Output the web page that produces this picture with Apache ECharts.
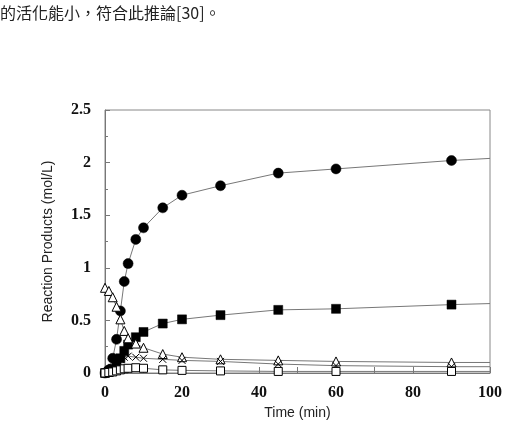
<!DOCTYPE html>
<html>
<head>
<meta charset="utf-8">
<script src="https://cdn.jsdelivr.net/npm/echarts@6/dist/echarts.min.js"></script>
<style>
  html, body { margin: 0; padding: 0; background: #fff; }
  #chart { width: 517px; height: 426px; }
</style>
</head>
<body>
<div id="chart"></div>
<script>
// sampling times (min)
var time = [0, 1, 2, 3, 4, 5, 6, 8, 10, 15, 20, 30, 45, 60, 90];
var endTime = 100;

// reaction products (mol/L)
var filledCircle = [0, 0.03, 0.14, 0.32, 0.59, 0.87, 1.04, 1.27, 1.38, 1.57, 1.69, 1.78, 1.90, 1.94, 2.02];
var filledSquare = [0, 0.01, 0.04, 0.08, 0.14, 0.21, 0.27, 0.34, 0.39, 0.47, 0.51, 0.55, 0.60, 0.61, 0.65];
var openTriangle = [0.81, 0.78, 0.72, 0.63, 0.51, 0.40, 0.33, 0.28, 0.24, 0.18, 0.15, 0.13, 0.12, 0.11, 0.10];
var crossMark = [0, 0.02, 0.05, 0.09, 0.13, 0.15, 0.16, 0.15, 0.14, 0.13, 0.12, 0.11, 0.085, 0.07, 0.06];
var openSquare = [0, 0.005, 0.01, 0.02, 0.03, 0.04, 0.045, 0.05, 0.045, 0.03, 0.025, 0.02, 0.015, 0.015, 0.015];

// curve values at the right edge (t = 100)
var endValues = [2.04, 0.66, 0.10, 0.06, 0.015];

var xTicks = [0, 20, 40, 60, 80, 100];
var yTicks = [0, 0.5, 1, 1.5, 2, 2.5];

var caption = '的活化能小，符合此推論[30]。';

function pairs(ys) {
    return time.map(function (t, i) { return [t, ys[i]]; });
}

var groups = [
    {data: filledCircle, symbol: 'circle', size: 10, fill: '#000'},
    {data: filledSquare, symbol: 'rect', size: 9, fill: '#000'},
    {data: openTriangle, symbol: 'triangle', size: 9, fill: '#fff'},
    {data: crossMark, symbol: 'path://M0,0L10,10M10,0L0,10', size: 7, fill: 'none'},
    {data: openSquare, symbol: 'rect', size: 8, fill: '#fff'}
];

var series = [];
groups.forEach(function (g, i) {
    series.push({
        type: 'line',
        data: pairs(g.data).concat([[endTime, endValues[i]]]),
        showSymbol: false,
        silent: true,
        z: 2,
        lineStyle: {color: '#777', width: 1}
    });
});
groups.forEach(function (g) {
    series.push({
        type: 'scatter',
        data: pairs(g.data),
        symbol: g.symbol,
        symbolSize: g.size,
        z: 3,
        itemStyle: {
            color: g.fill,
            borderColor: '#000',
            borderWidth: g.fill === '#000' ? 0.5 : 1,
            opacity: 1
        }
    });
});

var chart = echarts.init(document.getElementById('chart'));
chart.setOption({
    animation: false,
    backgroundColor: '#fff',
    graphic: [{
        type: 'text',
        left: 0,
        top: 5,
        style: {
            text: caption,
            font: '16px "Noto Sans CJK TC"',
            fill: '#222'
        }
    }],
    grid: {
        left: 105, right: 27, top: 110, bottom: 53,
        show: true, borderColor: '#888', borderWidth: 1
    },
    xAxis: {
        type: 'value',
        min: 0, max: 100, interval: 20,
        name: 'Time (min)',
        nameLocation: 'middle',
        nameGap: 33,
        nameTextStyle: {fontFamily: 'Liberation Sans', fontSize: 14, color: '#222'},
        axisLine: {lineStyle: {color: '#777'}},
        axisTick: {inside: true, length: 6, lineStyle: {color: '#777'}},
        minorTick: {show: true, splitNumber: 2, length: 6, lineStyle: {color: '#777'}},
        splitLine: {show: false},
        axisLabel: {
            margin: 12,
            fontFamily: 'Liberation Serif', fontWeight: 'bold', fontSize: 16, color: '#111',
            formatter: function (v) { return xTicks.indexOf(v) >= 0 ? String(v) : ''; }
        }
    },
    yAxis: {
        type: 'value',
        min: 0, max: 2.5, interval: 0.5,
        name: 'Reaction Products (mol/L)',
        nameLocation: 'middle',
        nameGap: 50,
        nameTextStyle: {fontFamily: 'Liberation Sans', fontSize: 14, color: '#222'},
        axisLine: {lineStyle: {color: '#777'}},
        axisTick: {inside: true, length: 5, lineStyle: {color: '#777'}},
        minorTick: {show: true, splitNumber: 2, length: 3, lineStyle: {color: '#777'}},
        splitLine: {show: false},
        axisLabel: {
            margin: 14,
            fontFamily: 'Liberation Serif', fontWeight: 'bold', fontSize: 16, color: '#111',
            formatter: function (v) { return yTicks.indexOf(v) >= 0 ? String(v) : ''; }
        }
    },
    series: series
});
</script>
</body>
</html>
